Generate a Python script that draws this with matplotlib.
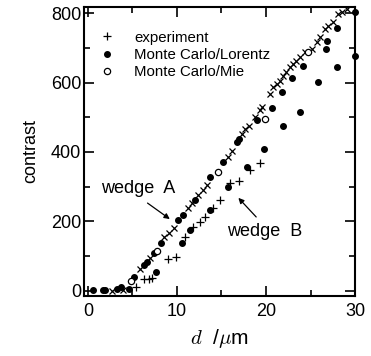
import matplotlib
matplotlib.use("Agg")
import matplotlib.pyplot as plt
from matplotlib.ticker import MultipleLocator

plt.rcParams.update({
    "font.family": "sans-serif",
    "font.sans-serif": ["Liberation Sans", "DejaVu Sans"],
    "mathtext.fontset": "cm",
})

# ---- data ----
# experiment, wedge A (upper curve)
exp_a_d = [2.7, 4.0, 5.8, 7.0, 8.5, 9.1, 9.7, 11.2, 11.7, 12.4, 12.9, 13.4,
           15.7, 16.2, 17.3, 17.6, 18.1, 18.8, 19.3, 19.6, 20.4, 20.8, 21.2,
           21.6, 21.9, 22.3, 22.7, 23.0, 23.4, 23.8, 24.4, 25.2, 25.7, 26.1,
           26.6, 27.0, 27.5, 28.1, 28.5, 29.1]
exp_a_c = [0, 3, 64, 95, 156, 167, 182, 240, 254, 277, 292, 306,
           387, 402, 451, 465, 475, 500, 520, 529, 566, 586, 595,
           604, 618, 630, 644, 653, 662, 673, 688, 697, 717, 731,
           754, 763, 774, 798, 804, 812]
# experiment, wedge B (lower curve)
exp_b_d = [5.4, 6.3, 6.9, 7.2, 9.0, 9.9, 10.9, 11.8, 12.6, 13.1, 14.0, 14.8,
           16.0, 17.0, 18.2, 19.3]
exp_b_c = [12, 35, 35, 37, 92, 98, 156, 185, 199, 214, 240, 263,
           312, 316, 348, 368]
# Monte Carlo / Lorentz
mcl_d = [0.6, 1.7, 3.3, 3.7, 5.2, 6.3, 6.6, 7.4, 8.2, 10.1, 10.7, 12.0,
         13.7, 15.2, 16.7, 17.0, 19.0, 20.7, 21.8, 22.9, 24.2, 26.7, 26.9,
         28.0, 30.0,
         1.9, 4.6, 7.6, 10.6, 11.5, 13.7, 15.7, 17.9, 19.8, 21.9, 23.8, 25.8,
         28.0, 30.0]
mcl_c = [2, 3, 6, 10, 40, 75, 84, 110, 139, 205, 220, 263,
         329, 370, 428, 436, 491, 527, 572, 612, 647, 697, 720,
         757, 803,
         2, 5, 55, 139, 176, 234, 298, 358, 410, 474, 514, 601,
         644, 676]
# Monte Carlo / Mie
mie_d = [4.8, 7.8, 14.6, 19.9, 24.7]
mie_c = [29, 116, 341, 494, 688]

fig = plt.figure(figsize=(3.71, 3.56), dpi=100)
ax = fig.add_axes([0.226, 0.169, 0.731, 0.811])

ax.plot(exp_a_d, exp_a_c, ls="none", marker="x", ms=4, mew=0.9, color="black",
        clip_on=False)
ax.plot(exp_b_d, exp_b_c, ls="none", marker="+", ms=5.5, mew=0.9, color="black",
        label="experiment", clip_on=False)
ax.plot(mcl_d, mcl_c, ls="none", marker="o", ms=4, color="black",
        label="Monte Carlo/Lorentz", clip_on=False)
ax.plot(mie_d, mie_c, ls="none", marker="o", ms=4.5, mfc="white", mec="black",
        mew=0.9, label="Monte Carlo/Mie", clip_on=False)

ax.legend(loc="upper left", bbox_to_anchor=(0.02, 0.955), frameon=False,
          fontsize=10.8, handlelength=1.0, handletextpad=1.3,
          labelspacing=0.22, borderaxespad=0.3)

arrow = dict(arrowstyle="-|>", color="black", lw=0.9, mutation_scale=8,
             shrinkA=0, shrinkB=0)
ax.text(5.6, 296, "wedge  A", fontsize=13, ha="center", va="center")
ax.annotate("", xy=(9.2, 207), xytext=(6.7, 253), arrowprops=arrow)
ax.text(19.9, 170, "wedge  B", fontsize=13, ha="center", va="center")
ax.annotate("", xy=(16.9, 268), xytext=(18.9, 213), arrowprops=arrow)

ax.set_xlim(-0.45, 30)
ax.set_ylim(-14, 817)
ax.xaxis.set_major_locator(MultipleLocator(10))
ax.xaxis.set_minor_locator(MultipleLocator(5))
ax.yaxis.set_major_locator(MultipleLocator(200))
ax.yaxis.set_minor_locator(MultipleLocator(100))
ax.tick_params(which="both", direction="in", top=True, right=True,
               labelsize=13, width=1.2)
ax.tick_params(axis="x", pad=5)
ax.tick_params(axis="y", pad=2)
ax.tick_params(which="major", length=7)
ax.tick_params(which="minor", length=4)
for s in ax.spines.values():
    s.set_linewidth(1.5)

ax.set_xlabel(r"$d$  /$\mu$m", fontsize=15, labelpad=5)
ax.set_ylabel("contrast", fontsize=13, labelpad=8)

fig.savefig("out.png", dpi=100)
